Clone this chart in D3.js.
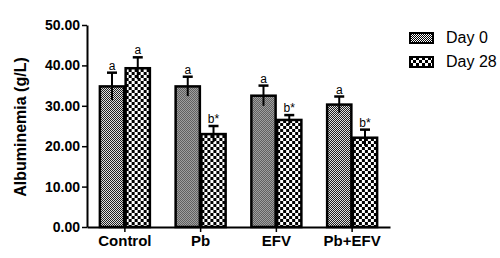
<!DOCTYPE html>
<html>
<head>
<meta charset="utf-8">
<script src="https://cdn.jsdelivr.net/npm/d3@7"></script>
<style>
  body { margin: 0; background: #fff; }
  svg { display: block; font-family: "Liberation Sans", Arial, sans-serif; }
</style>
</head>
<body>
<div id="chart"></div>
<script>
const groups = ["Control", "Pb", "EFV", "Pb+EFV"];
const series = ["Day 0", "Day 28"];
const day0 = [34.8, 34.8, 32.5, 30.3];
const day28 = [39.3, 23.0, 26.5, 22.1];
const day0Err = [3.4, 2.4, 2.5, 2.0];
const day28Err = [2.7, 2.0, 1.2, 2.0];
const day0Marks = ["a", "a", "a", "a"];
const day28Marks = ["a", "b*", "b*", "b*"];
const yTicks = [0, 10, 20, 30, 40, 50];

const W = 500, H = 258;
const margin = { top: 25, right: 110, bottom: 31, left: 87 };
const FONT = "'Liberation Sans', Arial, sans-serif";

const svg = d3.select("#chart").append("svg")
  .attr("width", W).attr("height", H);

const defs = svg.append("defs");
// fine checker for Day 0
const p0 = defs.append("pattern").attr("id", "pat0")
  .attr("patternUnits", "userSpaceOnUse").attr("width", 2).attr("height", 2);
p0.append("rect").attr("width", 2).attr("height", 2).attr("fill", "#fff");
p0.append("rect").attr("width", 1).attr("height", 1).attr("fill", "#000");
p0.append("rect").attr("x", 1).attr("y", 1).attr("width", 1).attr("height", 1).attr("fill", "#000");
// coarse checker for Day 28
const p1 = defs.append("pattern").attr("id", "pat1")
  .attr("patternUnits", "userSpaceOnUse").attr("width", 6).attr("height", 6);
p1.append("rect").attr("width", 6).attr("height", 6).attr("fill", "#fff");
p1.append("rect").attr("width", 3).attr("height", 3).attr("fill", "#000");
p1.append("rect").attr("x", 3).attr("y", 3).attr("width", 3).attr("height", 3).attr("fill", "#000");
const fills = { "Day 0": "url(#pat0)", "Day 28": "url(#pat1)" };

const x = d3.scaleBand().domain(groups).range([margin.left, W - margin.right]).padding(0);
const bw = x.bandwidth();
const xs = d3.scaleBand().domain(series).range([bw / 2 - 25, bw / 2 + 25]).paddingInner(0.06);
const y = d3.scaleLinear().domain([0, 50]).range([H - margin.bottom, margin.top]);

const rows = [];
groups.forEach((g, i) => {
  rows.push({ g, s: "Day 0", v: day0[i], e: day0Err[i], m: day0Marks[i] });
  rows.push({ g, s: "Day 28", v: day28[i], e: day28Err[i], m: day28Marks[i] });
});

const bars = svg.append("g").selectAll("g").data(rows).join("g")
  .attr("transform", d => `translate(${x(d.g) + xs(d.s)},0)`);

bars.append("rect")
  .attr("x", 0).attr("width", xs.bandwidth())
  .attr("y", d => y(d.v)).attr("height", d => y(0) - y(d.v))
  .attr("fill", d => fills[d.s])
  .attr("stroke", "#000").attr("stroke-width", 2.5);

const cx = xs.bandwidth() / 2;
bars.append("line")
  .attr("x1", cx).attr("x2", cx)
  .attr("y1", d => y(d.v - d.e)).attr("y2", d => y(d.v + d.e))
  .attr("stroke", "#000").attr("stroke-width", 2);
bars.append("line")
  .attr("x1", cx - 5).attr("x2", cx + 5)
  .attr("y1", d => y(d.v + d.e)).attr("y2", d => y(d.v + d.e))
  .attr("stroke", "#000").attr("stroke-width", 2.5);
bars.append("text")
  .attr("x", cx).attr("y", d => y(d.v + d.e) - 3)
  .attr("text-anchor", "middle")
  .attr("fill", "#000")
  .style("font-size", "12px")
  .text(d => d.m);

// axes
const yAxis = svg.append("g")
  .attr("transform", `translate(${margin.left},0)`)
  .call(d3.axisLeft(y).tickValues(yTicks).tickFormat(d3.format(".2f")).tickSize(5).tickSizeOuter(0));
yAxis.select(".domain").attr("stroke-width", 2);
yAxis.selectAll(".tick line").attr("stroke-width", 1.5);
yAxis.selectAll(".tick text").attr("x", -7)
  .style("font-size", "14px").style("font-weight", "bold").style("font-family", FONT);

const xAxis = svg.append("g")
  .attr("transform", `translate(0,${y(0)})`)
  .call(d3.axisBottom(x).tickSize(5).tickSizeOuter(0));
xAxis.select(".domain").attr("stroke-width", 2);
xAxis.selectAll(".tick line").attr("stroke-width", 1.5);
xAxis.selectAll(".tick text").attr("y", 8)
  .style("font-size", "15px").style("font-weight", "bold").style("font-family", FONT);

svg.append("text")
  .attr("transform", `translate(26,${(y(0) + y(50)) / 2 + 1}) rotate(-90)`)
  .attr("text-anchor", "middle")
  .style("font-size", "16px").style("font-weight", "bold")
  .text("Albuminemia (g/L)");

// legend
const leg = svg.append("g").attr("transform", "translate(410,33)")
  .selectAll("g").data(series).join("g")
  .attr("transform", (d, i) => `translate(0,${i * 24})`);
leg.append("rect")
  .attr("width", 23).attr("height", 10)
  .attr("fill", d => fills[d]).attr("stroke", "#000").attr("stroke-width", 2);
leg.append("text")
  .attr("x", 36).attr("y", 5.5).attr("dominant-baseline", "middle")
  .style("font-size", "16px")
  .text(d => d);
</script>
</body>
</html>
